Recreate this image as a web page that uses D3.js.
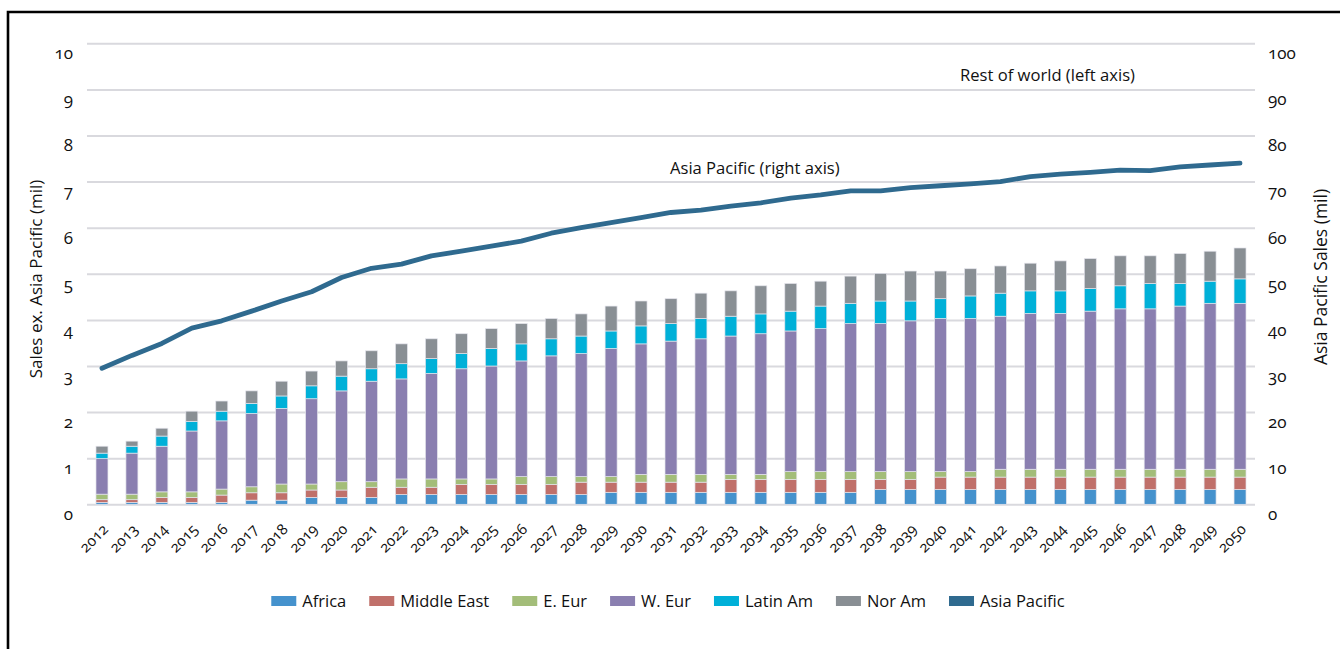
<!DOCTYPE html>
<html>
<head>
<meta charset="utf-8">
<script src="https://cdn.jsdelivr.net/npm/d3@7"></script>
<style>
  body { margin: 0; background: #fff; }
  svg text { font-family: 'Open Sans', sans-serif; fill: #111; }
  .num { font-variant-numeric: oldstyle-nums; font-feature-settings: 'onum'; }
</style>
</head>
<body>
<div id="chart"></div>
<script>
// categories
const years = ['2012','2013','2014','2015','2016','2017','2018','2019','2020','2021','2022','2023','2024',
  '2025','2026','2027','2028','2029','2030','2031','2032','2033','2034','2035','2036','2037','2038',
  '2039','2040','2041','2042','2043','2044','2045','2046','2047','2048','2049','2050'];

// stacked series, left axis (mil)
const africa = [.04,.04,.04,.04,.04,.09,.09,.15,.15,.15,.21,.21,.21,.21,.21,.21,.21,.26,.26,.26,
  .26,.26,.26,.26,.26,.26,.32,.32,.32,.32,.32,.32,.32,.32,.32,.32,.32,.32,.32];
const middleEast = [.06,.06,.11,.11,.16,.16,.16,.16,.16,.22,.16,.16,.22,.22,.22,.22,.27,.22,.22,.22,
  .22,.28,.28,.28,.28,.28,.22,.22,.27,.27,.27,.27,.27,.27,.27,.27,.27,.27,.27];
const eEur = [.12,.12,.12,.12,.13,.13,.19,.13,.18,.12,.18,.18,.12,.12,.17,.17,.12,.12,.17,.17,
  .17,.11,.11,.17,.17,.17,.17,.17,.12,.12,.17,.17,.17,.17,.17,.17,.17,.17,.17];
const wEur = [.77,.89,.99,1.32,1.48,1.59,1.64,1.85,1.97,2.18,2.17,2.29,2.39,2.45,2.51,2.62,2.67,2.78,2.83,2.89,
  2.94,3.00,3.05,3.05,3.10,3.21,3.21,3.27,3.32,3.32,3.32,3.38,3.38,3.43,3.48,3.48,3.54,3.60,3.60];
const latAm = [.12,.15,.22,.21,.21,.22,.27,.28,.32,.27,.33,.32,.33,.38,.37,.37,.38,.38,.39,.38,
  .44,.43,.43,.43,.49,.44,.49,.43,.43,.49,.50,.49,.49,.49,.50,.55,.49,.48,.53];
const norAm = [.15,.11,.17,.22,.22,.27,.32,.32,.33,.39,.43,.43,.43,.43,.44,.44,.48,.54,.54,.54,
  .55,.55,.61,.60,.54,.59,.60,.65,.60,.59,.59,.60,.65,.65,.65,.60,.65,.65,.67];

// line series, right axis (mil)
const asiaPacific = [29.5,32.3,34.9,38.2,39.8,41.9,44.1,46.1,49.2,51.2,52.1,53.9,54.9,56.0,57.1,58.8,60.0,61.1,62.2,63.3,
  63.8,64.7,65.4,66.4,67.1,68.0,68.0,68.7,69.1,69.5,70.0,71.1,71.6,72.0,72.5,72.4,73.2,73.6,74.0];

const seriesNames = ['Africa', 'Middle East', 'E. Eur', 'W. Eur', 'Latin Am', 'Nor Am'];
const seriesValues = [africa, middleEast, eEur, wEur, latAm, norAm];
const seriesColors = ['#4592cd', '#c0706a', '#a3bd79', '#8a7fb0', '#00b0d8', '#898f94'];
const lineName = 'Asia Pacific';
const lineColor = '#2f6a8f';

const leftTicks = [0,1,2,3,4,5,6,7,8,9,10];
const rightTicks = [0,10,20,30,40,50,60,70,80,90,100];

const svgWidth = 1340, svgHeight = 649;
const margin = { top: 43.3, left: 87, right: 85, bottom: 144.7 };
const width = svgWidth - margin.left - margin.right;
const height = svgHeight - margin.top - margin.bottom;

const svg = d3.select('#chart').append('svg')
  .attr('width', svgWidth)
  .attr('height', svgHeight);

// frame
svg.append('path')
  .attr('d', `M8,${svgHeight + 5} V12 H${svgWidth + 5}`)
  .attr('fill', 'none')
  .attr('stroke', '#000')
  .attr('stroke-width', 2.6);

const g = svg.append('g').attr('transform', `translate(${margin.left},${margin.top})`);

// scales
const x = d3.scaleBand().domain(years).range([0, width]).paddingInner(0.6).paddingOuter(0.3);
const yLeft = d3.scaleLinear().domain([0, 10]).range([height, 0]);
const yRight = d3.scaleLinear().domain([0, 100]).range([height, 0]);

// gridlines
g.append('g')
  .call(d3.axisLeft(yLeft).tickValues(leftTicks).tickSize(-width).tickFormat(''))
  .call(a => a.select('.domain').remove())
  .call(a => a.selectAll('line').attr('stroke', '#d9d9de').attr('stroke-width', 2));

// left axis labels
g.append('g')
  .call(d3.axisLeft(yLeft).tickValues(leftTicks).tickSize(0).tickPadding(14))
  .call(a => a.select('.domain').remove())
  .call(a => a.selectAll('text').attr('class', 'num').attr('font-size', 17).attr('dy', '0.9em')
    .style('font-family', "'Open Sans', sans-serif").attr('fill', '#111'));

// right axis labels
g.append('g')
  .attr('transform', `translate(${width},0)`)
  .call(d3.axisRight(yRight).tickValues(rightTicks).tickSize(0).tickPadding(13))
  .call(a => a.select('.domain').remove())
  .call(a => a.selectAll('text').attr('class', 'num').attr('font-size', 17).attr('dy', '0.9em')
    .style('font-family', "'Open Sans', sans-serif").attr('fill', '#111'));

// x axis labels
g.append('g')
  .attr('transform', `translate(0,${height})`)
  .call(d3.axisBottom(x).tickSize(0).tickPadding(0))
  .call(a => a.select('.domain').remove())
  .call(a => a.selectAll('text')
    .attr('class', 'num')
    .attr('font-size', 15)
    .attr('text-anchor', 'end')
    .attr('dy', null)
    .attr('transform', 'translate(7,26) rotate(-45)')
    .style('font-family', "'Open Sans', sans-serif").attr('fill', '#111'));

// stacked bars
const table = years.map((yr, i) => {
  const row = { year: yr };
  seriesNames.forEach((n, k) => { row[n] = seriesValues[k][i]; });
  return row;
});
const stacked = d3.stack().keys(seriesNames)(table);

g.selectAll('.layer')
  .data(stacked)
  .enter().append('g')
  .attr('class', 'layer')
  .attr('fill', (d, i) => seriesColors[i])
  .selectAll('rect')
  .data(d => d)
  .enter().append('rect')
  .attr('x', d => x(d.data.year))
  .attr('width', x.bandwidth())
  .attr('y', d => yLeft(d[1]))
  .attr('height', d => yLeft(d[0]) - yLeft(d[1]))
  .attr('stroke', '#e4e4ec')
  .attr('stroke-width', 0.7);

// Asia Pacific line
const line = d3.line()
  .x((d, i) => x(years[i]) + x.bandwidth() / 2)
  .y(d => yRight(d));

g.append('path')
  .datum(asiaPacific)
  .attr('fill', 'none')
  .attr('stroke', lineColor)
  .attr('stroke-width', 4.8)
  .attr('stroke-linejoin', 'round')
  .attr('stroke-linecap', 'round')
  .attr('d', line);

// annotations
svg.append('text')
  .attr('x', 960).attr('y', 81)
  .attr('font-size', 16.6)
  .text('Rest of world (left axis)');

svg.append('text')
  .attr('x', 670).attr('y', 174)
  .attr('font-size', 16.6)
  .text('Asia Pacific (right axis)');

// axis titles
svg.append('text')
  .attr('transform', 'translate(42,279) rotate(-90)')
  .attr('text-anchor', 'middle')
  .attr('font-size', 17)
  .text('Sales ex. Asia Pacific (mil)');

svg.append('text')
  .attr('transform', 'translate(1327,277) rotate(-90)')
  .attr('text-anchor', 'middle')
  .attr('font-size', 17.5)
  .text('Asia Pacific Sales (mil)');

// legend
const legendItems = seriesNames.map((n, i) => ({ name: n, color: seriesColors[i] }))
  .concat([{ name: lineName, color: lineColor }]);

const legend = svg.append('g').attr('transform', 'translate(0,596)');
const items = legend.selectAll('.item')
  .data(legendItems)
  .enter().append('g')
  .attr('class', 'item');

items.append('rect')
  .attr('width', 25)
  .attr('height', 10)
  .attr('fill', d => d.color);

items.append('text')
  .attr('x', 31)
  .attr('y', 11)
  .attr('font-size', 16.5)
  .text(d => d.name);

let cursor = 0;
const offsets = [];
items.each(function() {
  offsets.push(cursor);
  const w = d3.select(this).select('text').node().getComputedTextLength();
  cursor += 31 + w + 23;
});
const totalW = cursor - 23;
const startX = 668 - totalW / 2;
items.attr('transform', (d, i) => `translate(${startX + offsets[i]},0)`);
</script>
</body>
</html>
